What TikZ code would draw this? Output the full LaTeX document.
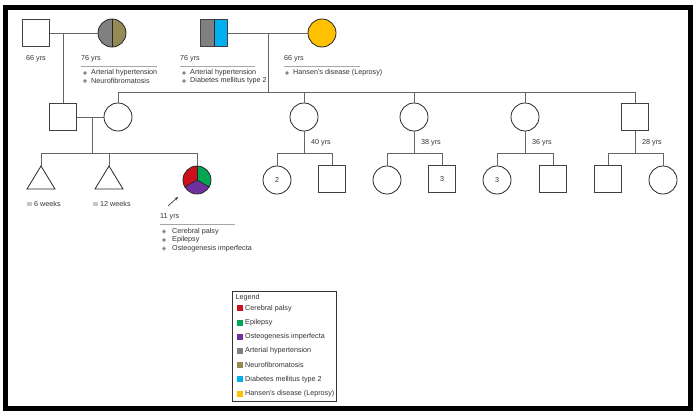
\documentclass[tikz,border=0pt]{standalone}
\usepackage{fontspec}
\setmainfont{Liberation Sans}
\usetikzlibrary{arrows.meta}
\definecolor{cRed}{RGB}{204,16,30}
\definecolor{cGreen}{RGB}{0,166,81}
\definecolor{cPurple}{RGB}{112,48,160}
\definecolor{cGray}{RGB}{128,128,128}
\definecolor{cOlive}{RGB}{148,138,84}
\definecolor{cBlue}{RGB}{0,176,240}
\definecolor{cYellow}{RGB}{255,192,0}
\begin{document}
\begin{tikzpicture}[x=1pt,y=-1pt,
  every node/.style={font=\fontsize{7.2}{8.5}\selectfont, text=black!80},
  sq/.style={draw=black!75, line width=0.8pt, rectangle, minimum size=27pt, inner sep=0pt},
  ci/.style={draw=black!85, line width=0.8pt, circle, minimum size=28pt, inner sep=0pt},
  ln/.style={draw=black!60, line width=0.7pt},
  shp/.style={draw=black!85, line width=0.8pt},
  lbl/.style={anchor=west, inner sep=0pt},
  rule/.style={draw=black!35, line width=0.5pt},
  bul/.style={circle, fill=black!50, draw=black!25, line width=0.5pt, minimum size=3.8pt, inner sep=0pt},
  sw/.style={rectangle, minimum size=6pt, inner sep=0pt},
  ico/.style={rectangle, fill=black!22, minimum width=5pt, minimum height=4pt, inner sep=0pt}
]
\useasboundingbox (0,0) rectangle (695,415);
\fill[white] (0,0) rectangle (695,415);
% frame
\draw[line width=5pt] (5.5,7) rectangle (690.5,408.5);

% ---------- Generation I ----------
\node[sq] (I1) at (36,33) {};
\begin{scope}[shift={(112,33)}, x=1pt, y=1pt]
  \fill[cGray] (0,14) arc[start angle=90, end angle=270, radius=14pt] -- cycle;
  \fill[cOlive] (0,14) arc[start angle=90, end angle=-90, radius=14pt] -- cycle;
\end{scope}
\node[ci] (I2) at (112,33) {};
\draw[shp] (I2.north) -- (I2.south);

\fill[cGray] (200.5,19.5) rectangle (214,46.5);
\fill[cBlue] (214,19.5) rectangle (227.5,46.5);
\node[sq] (I3) at (214,33) {};
\draw[shp] (I3.north) -- (I3.south);
\node[ci, fill=cYellow] (I4) at (322,33) {};

\draw[ln] (I1) -- (I2);
\draw[ln] (I3) -- (I4);

% Gen I labels
\node[lbl] (a1) at (26,59) {66 yrs};
\node[lbl] (a2) at (81,59) {76 yrs};
\draw[rule] (81,66) -- (157,66);
\node[bul] (b21) at (85,73) {};
\node[lbl] (t21) at (91,73) {Arterial hypertension};
\node[bul] (b22) at (85,81) {};
\node[lbl] (t22) at (91,81) {Neurofibromatosis};

\node[lbl] (a3) at (180,59) {76 yrs};
\draw[rule] (180,66) -- (255,66);
\node[bul] (b31) at (184,73) {};
\node[lbl] (t31) at (190,73) {Arterial hypertension};
\node[bul] (b32) at (184,81) {};
\node[lbl] (t32) at (190,81) {Diabetes mellitus type 2};

\node[lbl] (a4) at (284,59) {66 yrs};
\draw[rule] (284,66) -- (360,66);
\node[bul] (b41) at (287,73) {};
\node[lbl] (t41) at (293,73) {Hansen's disease (Leprosy)};

% ---------- Generation II ----------
\node[sq] (II1) at (63,117) {};
\node[ci] (II2) at (118,117) {};
\node[ci] (II3) at (304,117) {};
\node[ci] (II4) at (414,117) {};
\node[ci] (II5) at (525,117) {};
\node[sq] (II6) at (635,117) {};

\coordinate (m1) at (63,33);
\draw[ln] (m1) -- (II1);
\coordinate (m2) at (268,33);
\coordinate (s1) at (268,92);
\coordinate (sL) at (118,92);
\coordinate (sR) at (635,92);
\draw[ln] (m2) -- (s1);
\draw[ln] (sL) -- (sR);
\draw[ln] (sL) -- (II2);
\draw[ln] (II3|-s1) -- (II3);
\draw[ln] (II4|-s1) -- (II4);
\draw[ln] (II5|-s1) -- (II5);
\draw[ln] (sR) -- (II6);

\draw[ln] (II1) -- (II2);

% ---------- Generation III (proband family) ----------
\coordinate (m3) at (92,117);
\coordinate (s2) at (92,153);
\draw[ln] (m3) -- (s2);
\coordinate (s2L) at (41,153);
\coordinate (s2R) at (197,153);
\draw[ln] (s2L) -- (s2R);

\coordinate (T1) at (41,166);
\coordinate (T2) at (109,166);
\draw[shp] (T1) -- ++(-14,23) -- ++(28,0) -- cycle;
\draw[shp] (T2) -- ++(-14,23) -- ++(28,0) -- cycle;
\draw[ln] (s2L) -- (T1);
\draw[ln] (T2|-s2) -- (T2);

\begin{scope}[shift={(197,180)}, x=1pt, y=1pt]
  \fill[cRed] (0,0) -- (90:14pt) arc[start angle=90, end angle=210, radius=14pt] -- cycle;
  \fill[cPurple] (0,0) -- (210:14pt) arc[start angle=210, end angle=330, radius=14pt] -- cycle;
  \fill[cGreen] (0,0) -- (330:14pt) arc[start angle=330, end angle=450, radius=14pt] -- cycle;
\end{scope}
\node[ci] (III3) at (197,180) {};
\draw[shp] (III3.center) -- (III3.north);
\draw[shp] (III3.center) -- (III3.-150);
\draw[shp] (III3.center) -- (III3.-30);
\draw[ln] (s2R) -- (III3);

\node[ico] (i1) at (29.5,204) {};
\node[lbl] (w1) at (34,204) {6 weeks};
\node[ico] (i2) at (95.5,204) {};
\node[lbl] (w2) at (100,204) {12 weeks};

\coordinate (arS) at (168,206);
\coordinate (arE) at (178,197);
\draw[-{Stealth[length=3.5pt,width=3pt]}, black!85, line width=0.6pt] (arS) -- (arE);

\node[lbl] (a5) at (160,217) {11 yrs};
\draw[rule] (160,224) -- (235,224);
\node[bul] (b51) at (164,231.5) {};
\node[lbl] (t51) at (172,231.5) {Cerebral palsy};
\node[bul] (b52) at (164,240) {};
\node[lbl] (t52) at (172,240) {Epilepsy};
\node[bul] (b53) at (164,248.5) {};
\node[lbl] (t53) at (172,248.5) {Osteogenesis imperfecta};

% ---------- Other families ----------
\coordinate (s3) at (304,153);
\draw[ln] (II3) -- (s3);
\node[lbl] (g3) at (311,143) {40 yrs};
\node[ci] (C31) at (277,180) {2};
\node[sq] (C32) at (332,179) {};
\draw[ln] (C31|-s3) -- (C32|-s3);
\draw[ln] (C31|-s3) -- (C31);
\draw[ln] (C32|-s3) -- (C32);

\coordinate (s4) at (414,153);
\draw[ln] (II4) -- (s4);
\node[lbl] (g4) at (421,143) {38 yrs};
\node[ci] (C41) at (387,180) {};
\node[sq] (C42) at (442,179) {3};
\draw[ln] (C41|-s4) -- (C42|-s4);
\draw[ln] (C41|-s4) -- (C41);
\draw[ln] (C42|-s4) -- (C42);

\coordinate (s5) at (525,153);
\draw[ln] (II5) -- (s5);
\node[lbl] (g5) at (532,143) {36 yrs};
\node[ci] (C51) at (497,180) {3};
\node[sq] (C52) at (553,179) {};
\draw[ln] (C51|-s5) -- (C52|-s5);
\draw[ln] (C51|-s5) -- (C51);
\draw[ln] (C52|-s5) -- (C52);

\coordinate (s6) at (635,153);
\draw[ln] (II6) -- (s6);
\node[lbl] (g6) at (642,143) {28 yrs};
\node[sq] (C61) at (608,179) {};
\node[ci] (C62) at (663,180) {};
\draw[ln] (C61|-s6) -- (C62|-s6);
\draw[ln] (C61|-s6) -- (C61);
\draw[ln] (C62|-s6) -- (C62);

% ---------- Legend ----------
\node[draw=black!80, line width=0.6pt, rectangle, minimum width=104pt, minimum height=109.5pt, inner sep=0pt] (leg) at (284,346.2) {};
\node[lbl] (legT) at (235.5,297.5) {Legend};
\node[sw, fill=cRed] (l1) at (239.5,308.3) {};
\node[lbl] (lt1) at (245,308.3) {Cerebral palsy};
\node[sw, fill=cGreen] (l2) at (239.5,322.5) {};
\node[lbl] (lt2) at (245,322.5) {Epilepsy};
\node[sw, fill=cPurple] (l3) at (239.5,336.7) {};
\node[lbl] (lt3) at (245,336.7) {Osteogenesis imperfecta};
\node[sw, fill=cGray] (l4) at (239.5,350.9) {};
\node[lbl] (lt4) at (245,350.9) {Arterial hypertension};
\node[sw, fill=cOlive] (l5) at (239.5,365.1) {};
\node[lbl] (lt5) at (245,365.1) {Neurofibromatosis};
\node[sw, fill=cBlue] (l6) at (239.5,379.3) {};
\node[lbl] (lt6) at (245,379.3) {Diabetes mellitus type 2};
\node[sw, fill=cYellow] (l7) at (239.5,393.5) {};
\node[lbl] (lt7) at (245,393.5) {Hansen's disease (Leprosy)};
\end{tikzpicture}
\end{document}
